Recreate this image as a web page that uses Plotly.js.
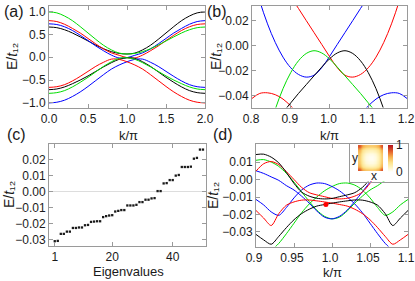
<!DOCTYPE html>
<html>
<head>
<meta charset="utf-8">
<script src="https://cdn.plot.ly/plotly-3.0.1.min.js"></script>
<style>
html,body{margin:0;padding:0;background:#fff;}
#chart{width:415px;height:281px;}
</style>
</head>
<body>
<div id="chart"></div>
<script>
// ---------- panel (a): bands over the full zone, k/pi from 0 to 2 ----------
const kA = [0,0.1,0.2,0.3,0.4,0.5,0.6,0.7,0.8,0.9,1.0,1.1,1.2,1.3,1.4,1.5,1.6,1.7,1.8,1.9,2.0];
const greenUpperA = [0.99,0.97,0.90,0.80,0.67,0.53,0.39,0.26,0.16,0.09,0.07,0.083,0.122,0.185,0.265,0.355,0.445,0.53,0.60,0.646,0.66];
const blackUpperA = [0.66,0.646,0.60,0.53,0.445,0.355,0.265,0.185,0.122,0.083,0.07,0.09,0.16,0.26,0.39,0.53,0.67,0.80,0.90,0.97,0.99];
const redUpperA   = [0.80,0.78,0.72,0.63,0.53,0.41,0.29,0.18,0.095,0.042,-0.009,-0.017,0.046,0.14,0.245,0.365,0.48,0.585,0.665,0.715,0.73];
const blueUpperA  = [0.73,0.715,0.665,0.585,0.48,0.365,0.245,0.14,0.046,-0.017,-0.009,0.042,0.095,0.18,0.29,0.41,0.53,0.63,0.72,0.78,0.80];
const greenLowerA = [-0.79,-0.775,-0.73,-0.65,-0.55,-0.44,-0.32,-0.20,-0.10,-0.025,-0.011,-0.046,-0.12,-0.21,-0.31,-0.41,-0.50,-0.58,-0.65,-0.695,-0.71];
const blackLowerA = [-0.71,-0.695,-0.65,-0.58,-0.50,-0.41,-0.31,-0.21,-0.12,-0.046,-0.011,-0.025,-0.10,-0.20,-0.32,-0.44,-0.55,-0.65,-0.73,-0.775,-0.79];
const redLowerA   = [-0.66,-0.645,-0.60,-0.52,-0.42,-0.31,-0.20,-0.11,-0.042,-0.047,-0.10,-0.17,-0.26,-0.38,-0.51,-0.64,-0.76,-0.86,-0.94,-0.985,-1.0];
const blueLowerA  = [-1.0,-0.985,-0.94,-0.86,-0.76,-0.64,-0.51,-0.38,-0.26,-0.17,-0.10,-0.047,-0.042,-0.11,-0.20,-0.31,-0.42,-0.52,-0.60,-0.645,-0.66];
const ticksA = [0, 0.5, 1.0, 1.5, 2.0];
const tickTextA = ['0.0', '0.5', '1.0', '1.5', '2.0'];

// ---------- panel (b): zoom around k/pi = 1 ----------
const kB = [0.80,0.82,0.84,0.86,0.88,0.90,0.92,0.94,0.96,0.98,1.00,1.02,1.04,1.06,1.08,1.10,1.12,1.14,1.16,1.18,1.20];
const blueUpperB  = [0.057,0.0355,0.0174,0.0026,-0.0091,-0.0176,-0.0229,-0.025,-0.0235,-0.0175,-0.0086,0.001,0.0105,0.020,0.0296,0.039,0.049,0.058,0.068,0.078,0.088];
const redUpperB   = [0.088,0.078,0.068,0.058,0.049,0.039,0.0296,0.020,0.0105,0.001,-0.0086,-0.0175,-0.0235,-0.025,-0.0229,-0.0176,-0.0091,0.0026,0.0174,0.0355,0.057];
const greenLowerB = [-0.121,-0.094,-0.0705,-0.0506,-0.0342,-0.0214,-0.012,-0.0062,-0.004,-0.0058,-0.0105,-0.017,-0.024,-0.031,-0.038,-0.0455,-0.053,-0.061,-0.070,-0.080,-0.090];
const blackLowerB = [-0.090,-0.080,-0.070,-0.061,-0.053,-0.0455,-0.038,-0.031,-0.024,-0.017,-0.0105,-0.0058,-0.004,-0.0062,-0.012,-0.0214,-0.0342,-0.0506,-0.0705,-0.094,-0.121];
const redLowerB   = [-0.042,-0.038,-0.0375,-0.039,-0.0425,-0.048,-0.055,-0.063,-0.072,-0.082,-0.093,-0.105,-0.118,-0.132,-0.147,-0.163,-0.18,-0.20,-0.22,-0.24,-0.26];
const blueLowerB  = [-0.26,-0.24,-0.22,-0.20,-0.18,-0.163,-0.147,-0.132,-0.118,-0.105,-0.093,-0.082,-0.072,-0.063,-0.055,-0.048,-0.0425,-0.039,-0.0375,-0.038,-0.042];
const ticksBx = [0.8, 0.9, 1.0, 1.1, 1.2];
const tickTextBx = ['0.8', '0.9', '1.0', '1.1', '1.2'];
const ticksBy = [-0.04, -0.02, 0, 0.02];

// ---------- panel (c): sorted eigenvalues ----------
const eigIndex = [1,2,3,4,5,6,7,8,9,10,11,12,13,14,15,16,17,18,19,20,21,22,23,24,25,26,27,28,29,30,31,32,33,34,35,36,37,38,39,40,41,42,43,44,45,46,47,48,49,50];
const eigValues = [-0.0312,-0.0310,-0.0266,-0.0266,-0.0252,-0.0252,-0.0229,-0.0229,-0.0226,-0.0226,
  -0.0212,-0.0210,-0.0191,-0.0189,-0.0187,-0.0187,-0.0161,-0.0155,-0.0151,-0.0149,
  -0.0126,-0.0122,-0.0117,-0.0117,-0.0088,-0.0088,-0.0088,-0.0084,-0.0067,-0.0067,
  -0.0052,-0.0052,-0.0044,-0.0042,0.0002,0.0002,0.0050,0.0052,0.0071,0.0071,
  0.0099,0.0103,0.0153,0.0153,0.0153,0.0155,0.0205,0.0210,0.0262,0.0262];
const ticksCx = [1, 20, 40];
const ticksCy = [-0.03, -0.02, -0.01, 0, 0.01, 0.02];

// ---------- panel (d): finite-size bands near k/pi = 1 ----------
const kD = [0.90,0.91,0.92,0.93,0.94,0.95,0.96,0.97,0.98,0.99,1.00,1.01,1.02,1.03,1.04,1.05,1.06,1.07,1.08,1.09,1.10];
const blackAD = [0.0143,0.0145,0.0128,0.0095,0.0040,-0.0022,-0.0072,-0.0095,-0.0107,-0.0111,-0.0108,-0.0098,-0.0088,-0.0075,-0.0045,0.0000,0.0045,0.0085,0.0103,0.0090,0.0048];
const redAD   = [0.0048,0.0090,0.0103,0.0085,0.0045,0.0000,-0.0045,-0.0075,-0.0088,-0.0098,-0.0108,-0.0111,-0.0107,-0.0095,-0.0072,-0.0022,0.0040,0.0095,0.0128,0.0145,0.0143];
const greenAD = [0.0110,0.0114,0.0100,0.0075,0.0035,-0.0015,-0.0070,-0.0125,-0.0175,-0.0210,-0.0225,-0.0215,-0.0180,-0.0135,-0.0095,-0.0060,-0.0035,-0.0005,0.0015,0.0035,0.0050];
const blueAD  = [0.0050,0.0035,0.0015,-0.0005,-0.0035,-0.0060,-0.0095,-0.0135,-0.0180,-0.0215,-0.0225,-0.0210,-0.0175,-0.0125,-0.0070,-0.0015,0.0035,0.0075,0.0100,0.0114,0.0110];
const redBD   = [-0.0177,-0.0220,-0.0263,-0.0195,-0.0147,-0.0128,-0.0118,-0.0117,-0.0122,-0.0128,-0.0135,-0.0143,-0.0152,-0.0170,-0.0195,-0.0230,-0.0275,-0.0325,-0.0370,-0.0345,-0.0314];
const blackBD = [-0.0314,-0.0345,-0.0370,-0.0325,-0.0275,-0.0230,-0.0195,-0.0170,-0.0152,-0.0143,-0.0135,-0.0128,-0.0122,-0.0117,-0.0118,-0.0128,-0.0147,-0.0195,-0.0263,-0.0220,-0.0177];
const greenBD = [-0.0410,-0.0420,-0.0405,-0.0365,-0.0310,-0.0250,-0.0190,-0.0140,-0.0100,-0.0065,-0.0040,-0.0023,-0.0020,-0.0032,-0.0060,-0.0105,-0.0160,-0.0205,-0.0185,-0.0145,-0.0114];
const blueBD  = [-0.0114,-0.0145,-0.0185,-0.0205,-0.0160,-0.0105,-0.0060,-0.0032,-0.0020,-0.0023,-0.0040,-0.0065,-0.0100,-0.0140,-0.0190,-0.0250,-0.0310,-0.0365,-0.0405,-0.0420,-0.0410];
const markedK = [0.992];
const markedE = [-0.0143];
const ticksDx = [0.9, 0.95, 1.0, 1.05, 1.1];
const tickTextDx = ['0.9', '0.95', '1.0', '1.05', '1.1'];
const ticksDy = [-0.03, -0.02, -0.01, 0, 0.01];

// ---------- inset: probability density on the x-y lattice ----------
const insetDensity = [
  [0.80,0.56,0.47,0.44,0.44,0.47,0.56,0.80],
  [0.56,0.33,0.24,0.20,0.20,0.24,0.33,0.56],
  [0.47,0.24,0.12,0.08,0.08,0.12,0.24,0.47],
  [0.44,0.20,0.08,0.04,0.04,0.08,0.20,0.44],
  [0.44,0.20,0.08,0.04,0.04,0.08,0.20,0.44],
  [0.47,0.24,0.12,0.08,0.08,0.12,0.24,0.47],
  [0.56,0.33,0.24,0.20,0.20,0.24,0.33,0.56],
  [0.80,0.56,0.47,0.44,0.44,0.47,0.56,0.80]
];
const colorbarTicks = [0, 1];

// ---------- drawing ----------
const W = 415, H = 281;
const GREEN = '#00dd00', RED = '#ff0000', BLUE = '#0000ff', BLACK = '#000000';
const FONT = 'Liberation Sans, Arial, Helvetica, sans-serif';
const px = v => v / W;          // horizontal pixel -> paper
const py = v => 1 - v / H;      // vertical pixel (from top) -> paper

function line(x, y, color, xa, ya, sm) {
  return {type: 'scatter', mode: 'lines', x: x, y: y, xaxis: xa, yaxis: ya,
          line: {color: color, width: 1, shape: 'spline', smoothing: sm},
          hoverinfo: 'skip', showlegend: false};
}

const traces = [
  line(kA, blackUpperA, BLACK, 'x', 'y', 1), line(kA, blueUpperA, BLUE, 'x', 'y', 1),
  line(kA, redUpperA, RED, 'x', 'y', 1), line(kA, greenUpperA, GREEN, 'x', 'y', 1),
  line(kA, blackLowerA, BLACK, 'x', 'y', 1), line(kA, blueLowerA, BLUE, 'x', 'y', 1),
  line(kA, redLowerA, RED, 'x', 'y', 1), line(kA, greenLowerA, GREEN, 'x', 'y', 1),

  line(kB, blueUpperB, BLUE, 'x2', 'y2', 1), line(kB, redUpperB, RED, 'x2', 'y2', 1),
  line(kB, redLowerB, RED, 'x2', 'y2', 1), line(kB, blueLowerB, BLUE, 'x2', 'y2', 1),
  line(kB, greenLowerB, GREEN, 'x2', 'y2', 1), line(kB, blackLowerB, BLACK, 'x2', 'y2', 1),

  {type: 'scatter', mode: 'markers', x: eigIndex, y: eigValues, xaxis: 'x3', yaxis: 'y3',
   marker: {color: '#1a1a1a', size: 2.3, symbol: 'square', line: {width: 0}}, hoverinfo: 'skip', showlegend: false},

  line(kD, greenBD, GREEN, 'x4', 'y4', 0.8), line(kD, blueBD, BLUE, 'x4', 'y4', 0.8),
  line(kD, greenAD, GREEN, 'x4', 'y4', 0.8), line(kD, blueAD, BLUE, 'x4', 'y4', 0.8),
  line(kD, redBD, RED, 'x4', 'y4', 0.8), line(kD, blackBD, BLACK, 'x4', 'y4', 0.8),
  line(kD, redAD, RED, 'x4', 'y4', 0.8), line(kD, blackAD, BLACK, 'x4', 'y4', 0.8),
  {type: 'scatter', mode: 'markers', x: markedK, y: markedE, xaxis: 'x4', yaxis: 'y4',
   marker: {color: '#ff0000', size: 5}, hoverinfo: 'skip', showlegend: false},

  {type: 'heatmap', z: insetDensity, xaxis: 'x5', yaxis: 'y5',
   x0: 0.165, dx: 0.0539, y0: 0.319, dy: 0.0856, zmin: 0, zmax: 1, zsmooth: 'best',
   colorscale: [[0, '#ffffff'], [0.15, '#fff6c6'], [0.35, '#fde28a'], [0.55, '#f7b24e'], [0.75, '#e5642d'], [1, '#b3101c']],
   showscale: true, hoverinfo: 'skip',
   colorbar: {x: px(388), xanchor: 'left', y: py(158.3), yanchor: 'middle',
              len: 27, lenmode: 'pixels', thickness: 5, thicknessmode: 'pixels',
              tickvals: colorbarTicks, ticktext: colorbarTicks.map(String), ticks: '',
              tickfont: {size: 12, color: '#1a1a1a', family: FONT},
              outlinewidth: 0, xpad: 0, ypad: 0, bgcolor: 'rgba(0,0,0,0)'}}
];

const frame = {
  showline: true, linecolor: '#9a9a9a', linewidth: 1, mirror: 'ticks',
  ticks: 'inside', ticklen: 4, tickcolor: '#9a9a9a', tickwidth: 1,
  showgrid: false, zeroline: false, fixedrange: true, ticklabeloverflow: 'allow',
  tickfont: {size: 12, color: '#1a1a1a', family: FONT}
};
function ax(o) { return Object.assign({}, frame, o); }

const layout = {
  width: W, height: H,
  margin: {l: 0, r: 0, t: 0, b: 0, autoexpand: false},
  paper_bgcolor: '#ffffff', plot_bgcolor: '#ffffff',
  font: {family: FONT, size: 12, color: '#1a1a1a'},
  showlegend: false,
  xaxis:  ax({domain: [px(49), px(205)], anchor: 'y', range: [0, 2], tickvals: ticksA, ticktext: tickTextA}),
  yaxis:  ax({domain: [py(107.5), py(6)], anchor: 'x', range: [-1.1, 1.12], tick0: 0, dtick: 0.5, tickformat: '.1f'}),
  xaxis2: ax({domain: [px(252), px(407)], anchor: 'y2', range: [0.8, 1.2], tickvals: ticksBx, ticktext: tickTextBx, ticklabelshift: -1}),
  yaxis2: ax({domain: [py(107.5), py(6)], anchor: 'x2', range: [-0.0492, 0.0316], tickvals: ticksBy, tickformat: '.2f'}),
  xaxis3: ax({domain: [px(49), px(206)], anchor: 'y3', range: [-0.9, 51], tickvals: ticksCx}),
  yaxis3: ax({domain: [py(246), py(144)], anchor: 'x3', range: [-0.0342, 0.0297],
              tickvals: ticksCy, tickformat: '.2f',
              zeroline: true, zerolinecolor: '#dddddd', zerolinewidth: 1}),
  xaxis4: ax({domain: [px(256), px(408)], anchor: 'y4', range: [0.9, 1.1],
              tickvals: ticksDx, ticktext: tickTextDx, ticklabelshift: -2}),
  yaxis4: ax({domain: [py(246.5), py(143.5)], anchor: 'x4', range: [-0.0383, 0.0206],
              tickvals: ticksDy, tickformat: '.2f'}),
  xaxis5: {domain: [px(350), px(408)], anchor: 'y5', range: [0, 1], showline: true, mirror: true,
           linecolor: '#9a9a9a', linewidth: 1, showticklabels: false, ticks: '', showgrid: false, zeroline: false, fixedrange: true},
  yaxis5: {domain: [py(181.5), py(143.5)], anchor: 'x5', range: [0, 1], showline: true, mirror: true,
           linecolor: '#9a9a9a', linewidth: 1, showticklabels: false, ticks: '', showgrid: false, zeroline: false, fixedrange: true},
  annotations: []
};

function note(text, x, y, size, angle) {
  layout.annotations.push({text: text, xref: 'paper', yref: 'paper', x: px(x), y: py(y),
    xanchor: 'center', yanchor: 'middle', showarrow: false, textangle: angle || 0,
    font: {size: size, color: '#1a1a1a', family: FONT}});
}
const yTitle = 'E/<i>t</i>\u2081\u2082';
const kTitle = 'k/π';
note('(a)', 14, 11.5, 16); note('(b)', 216.5, 11.5, 16);
note('(c)', 16, 134, 16);  note('(d)', 223, 134, 16);
note(yTitle, 12, 57, 14, -90);  note(kTitle, 128, 135.5, 13);
note(yTitle, 216, 57, 14, -90); note(kTitle, 329, 135.5, 13);
note(yTitle, 9, 195, 14, -90);  note('Eigenvalues', 128, 271.5, 13);
note(yTitle, 213, 195, 14, -90); note(kTitle, 332, 272.5, 13);
note('y', 354.5, 157.5, 12); note('x', 374, 175.5, 12);

Plotly.newPlot('chart', traces, layout, {staticPlot: true, displayModeBar: false});
</script>
</body>
</html>
